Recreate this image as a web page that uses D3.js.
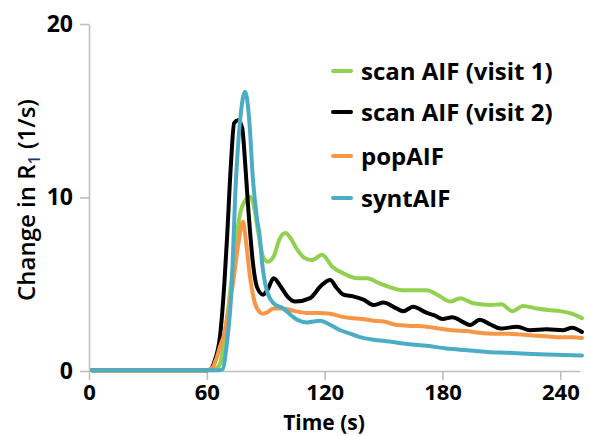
<!DOCTYPE html>
<html>
<head>
<meta charset="utf-8">
<script src="https://cdn.jsdelivr.net/npm/d3@7/dist/d3.min.js"></script>
<style>
  html, body { margin: 0; padding: 0; background: #fff; }
  svg { display: block; }
  text { font-family: "Open Sans", Lato, sans-serif; }
</style>
</head>
<body>
<svg id="chart" width="589" height="436"></svg>
<script>
// ---- data ----
const seriesNames = ["scan AIF (visit 1)", "scan AIF (visit 2)", "popAIF", "syntAIF"];
const seriesColors = ["#92D050", "#000000", "#F79646", "#4BACC6"];

const visit1Time = [1.5,20,40,60,64,66.7,69,71,73.5,77,80,82,84,86,88.6,91,94,97,100,102.4,106,110,113.6,118.7,124,130,136.5,141.5,148,154,160,166,172,178,184,189,195.6,205,210,215.5,221,228,235,240,246,251];
const visit1Value = [0.05,0.05,0.05,0.05,0.1,0.4,2.0,3.7,6.2,9.1,9.9,10.05,9.5,8.1,6.6,6.3,6.6,7.6,7.95,7.7,7.0,6.5,6.4,6.7,6.0,5.6,5.35,5.35,5.05,4.8,4.65,4.65,4.65,4.35,4.0,4.2,3.9,3.8,3.85,3.45,3.75,3.6,3.5,3.45,3.3,3.05];

const visit2Time = [1.5,20,40,60,62,64,66.7,69,70.3,72.3,73.9,76,78,79.5,81,83.5,85.5,88.6,91,94,98,101,105,112.6,118,122.8,126,129.5,134.5,140,144.7,150,155,160,165,172,176,180,185,190,194,199,204,209.5,218,224.6,233,241.5,246,251];
const visit2Value = [0.05,0.05,0.05,0.05,0.1,0.6,2.0,5.2,7.7,12,14.3,14.45,14.0,12,9.5,6.2,4.85,4.4,4.7,5.35,4.8,4.3,4.0,4.2,4.9,5.25,4.8,4.4,4.3,4.1,3.8,3.95,3.7,3.45,3.7,3.35,3.2,3.0,3.1,2.85,2.65,2.95,2.7,2.45,2.55,2.35,2.4,2.35,2.5,2.25];

const popTime = [1.5,20,40,60,62.6,64.5,66.7,69,71,73.5,76,78.4,80,82,84.5,86.5,88.6,91,94,99,105,111,117,122.8,128,133,139,144.7,150,157,165,172,178,185,192,199,206,213,220,226,233,240,246,251];
const popValue = [0.05,0.05,0.05,0.05,0.15,0.6,1.4,2.2,3.5,5.2,7.3,8.6,7.4,5.4,3.9,3.45,3.3,3.4,3.6,3.6,3.45,3.35,3.35,3.3,3.15,3.05,3.0,2.9,2.85,2.65,2.6,2.55,2.45,2.35,2.3,2.2,2.15,2.15,2.1,2.05,2.0,1.95,1.95,1.9];

const syntTime = [1.5,20,40,60,66,68,70,72.8,74.4,77,79.5,81.5,83.5,85.5,87,88,90.5,94,99,103,106,111,117.7,123,128,133,138,145,153,162,172,182,192.5,203,213,223,233,242,251];
const syntValue = [0.05,0.05,0.05,0.05,0.05,0.1,1.4,5.2,10,14.5,16.1,14.6,11,8.8,7.7,6.4,4.65,3.9,3.6,3.2,2.95,2.8,2.9,2.65,2.35,2.15,1.95,1.8,1.7,1.55,1.45,1.3,1.2,1.1,1.05,1.0,0.95,0.92,0.9];

const xTicks = [0, 60, 120, 180, 240];
const yTicks = [0, 10, 20];
const xTitle = "Time (s)";

// ---- layout ----
const svg = d3.select("#chart");
const x = d3.scaleLinear().domain([0, 250]).range([89, 580]);
const y = d3.scaleLinear().domain([0, 20]).range([371, 24]);

const axisColor = "#BFBFBF";
const FONT = "'Open Sans', Lato, sans-serif";

// x axis
const xAxis = svg.append("g").attr("transform", "translate(0,371)")
  .call(d3.axisBottom(x).tickValues(xTicks).tickSize(9).tickPadding(4.5).tickSizeOuter(0));
xAxis.select(".domain").attr("stroke", axisColor).attr("stroke-width", 1.6);
xAxis.selectAll(".tick line").attr("stroke", axisColor).attr("stroke-width", 1.6);
xAxis.selectAll(".tick text").attr("font-size", 22).attr("font-weight", 700)
  .attr("fill", "#000").attr("font-family", FONT);

// y axis
const yAxis = svg.append("g").attr("transform", "translate(89,0)")
  .call(d3.axisLeft(y).tickValues(yTicks).tickSize(9).tickPadding(7).tickSizeOuter(0));
yAxis.select(".domain").attr("stroke", axisColor).attr("stroke-width", 1.6);
yAxis.selectAll(".tick line").attr("stroke", axisColor).attr("stroke-width", 1.6);
yAxis.selectAll(".tick text").attr("font-size", 23).attr("font-weight", 700)
  .attr("fill", "#000").attr("font-family", FONT);

// lines
const series = [
  { name: seriesNames[0], color: seriesColors[0], t: visit1Time, v: visit1Value },
  { name: seriesNames[1], color: seriesColors[1], t: visit2Time, v: visit2Value },
  { name: seriesNames[2], color: seriesColors[2], t: popTime, v: popValue },
  { name: seriesNames[3], color: seriesColors[3], t: syntTime, v: syntValue }
];
const line = d3.line().x(d => x(d[0])).y(d => y(d[1])).curve(d3.curveMonotoneX);
series.forEach(s => {
  svg.append("path")
    .datum(s.t.map((t, i) => [t, s.v[i]]))
    .attr("fill", "none")
    .attr("stroke", s.color)
    .attr("stroke-width", 4)
    .attr("stroke-linejoin", "round")
    .attr("stroke-linecap", "round")
    .attr("d", line);
});

// axis titles
svg.append("text").attr("x", 324).attr("y", 429.5).attr("text-anchor", "middle")
  .attr("font-size", 21).attr("font-weight", 700).text(xTitle);

const yt = svg.append("text").attr("transform", "translate(35,200) rotate(-90)")
  .attr("text-anchor", "middle").attr("font-size", 24).attr("font-weight", 600);
yt.append("tspan").text("Change in R");
yt.append("tspan").attr("font-size", 16).attr("dy", 5).attr("fill", "#1F3864").text("1");
yt.append("tspan").attr("dy", -5).text(" (1/s)");

// legend
const legendRows = [71, 112, 156, 198];
series.forEach((s, i) => {
  const g = svg.append("g").attr("transform", `translate(0,${legendRows[i]})`);
  g.append("line").attr("x1", 333).attr("x2", 351).attr("y1", 0).attr("y2", 0)
    .attr("stroke", s.color).attr("stroke-width", 4).attr("stroke-linecap", "round");
  g.append("text").attr("x", 361).attr("y", 9).attr("font-size", 24).attr("font-weight", 700)
    .attr("fill", "#000").text(s.name);
});
</script>
</body>
</html>
